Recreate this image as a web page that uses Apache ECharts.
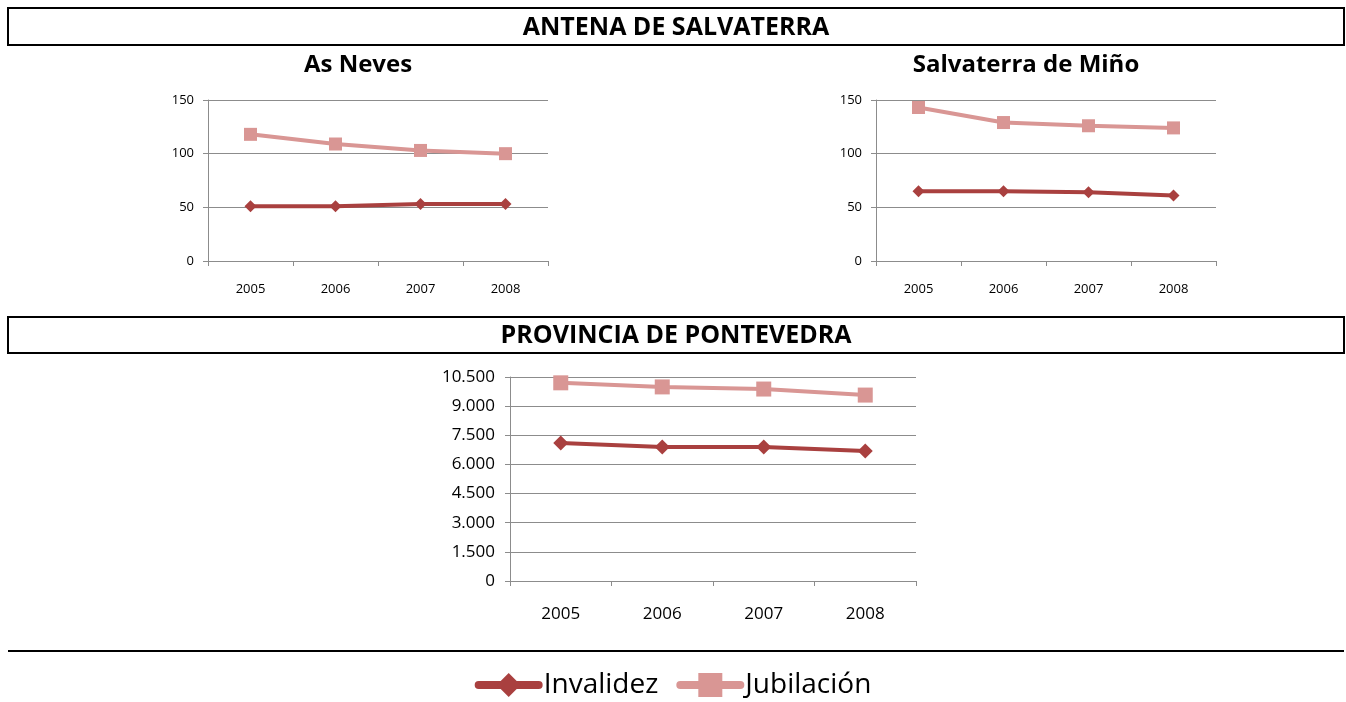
<!DOCTYPE html>
<html lang="es">
<head>
    <meta charset="UTF-8">
    <title>Antena de Salvaterra - Provincia de Pontevedra</title>
    <script src="https://cdn.jsdelivr.net/npm/echarts@6.0.0/dist/echarts.min.js"></script>
    <style>
        body {
            margin: 0;
            background: #fff;
        }
        #chart {
            width: 1346px;
            height: 702px;
        }
    </style>
</head>
<body>

<div id="chart"></div>

<script>
// datos
const years = ['2005', '2006', '2007', '2008'];
const asNevesInvalidez = [51, 51, 53, 53];
const asNevesJubilacion = [118, 109, 103, 100];
const salvaterraInvalidez = [65, 65, 64, 61];
const salvaterraJubilacion = [143, 129, 126, 124];
const pontevedraInvalidez = [7100, 6900, 6900, 6690];
const pontevedraJubilacion = [10200, 9990, 9880, 9570];

const FONT = '"Open Sans", Lato, sans-serif';
const COLOR_INV = '#A9403F';
const COLOR_JUB = '#D99694';
const GRID_COLOR = '#8C8C8C';

function fmtMiles(v) {
    return String(v).replace(/\B(?=(\d{3})+(?!\d))/g, '.');
}

function xAxisFor(gridIndex, fontSize, margin) {
    return {
        type: 'category',
        gridIndex: gridIndex,
        data: years,
        boundaryGap: true,
        axisLine: { lineStyle: { color: GRID_COLOR, width: 1 } },
        axisTick: { show: true, length: 5, lineStyle: { color: GRID_COLOR } },
        axisLabel: { color: '#000', fontSize: fontSize, fontFamily: FONT, margin: margin }
    };
}

function yAxisFor(gridIndex, max, interval, fontSize, margin, formatter) {
    return {
        type: 'value',
        gridIndex: gridIndex,
        min: 0,
        max: max,
        interval: interval,
        axisLine: { show: true, lineStyle: { color: GRID_COLOR, width: 1 } },
        axisTick: { show: true, length: 5, lineStyle: { color: GRID_COLOR } },
        splitLine: { lineStyle: { color: GRID_COLOR, width: 1 } },
        axisLabel: { color: '#000', fontSize: fontSize, fontFamily: FONT, margin: margin, formatter: formatter }
    };
}

function invSeries(idx, data, size) {
    return {
        name: 'Invalidez',
        type: 'line',
        xAxisIndex: idx,
        yAxisIndex: idx,
        data: data,
        symbol: 'diamond',
        symbolSize: size,
        color: COLOR_INV,
        lineStyle: { color: COLOR_INV, width: 4 },
        itemStyle: { color: COLOR_INV },
        z: 3
    };
}

function jubSeries(idx, data, size) {
    return {
        name: 'Jubilación',
        type: 'line',
        xAxisIndex: idx,
        yAxisIndex: idx,
        data: data,
        symbol: 'rect',
        symbolSize: size,
        color: COLOR_JUB,
        lineStyle: { color: COLOR_JUB, width: 4 },
        itemStyle: { color: COLOR_JUB },
        z: 2
    };
}

function boxWithText(top, height, text) {
    return [
        {
            type: 'rect',
            shape: { x: 8, y: top, width: 1336, height: height },
            style: { fill: 'none', stroke: '#000', lineWidth: 2 }
        },
        {
            type: 'text',
            x: 676,
            y: top + height / 2 + 1,
            style: {
                text: text,
                fill: '#000',
                font: 'bold 25px ' + FONT,
                align: 'center',
                verticalAlign: 'middle'
            }
        }
    ];
}

function subTitle(x, y, text) {
    return {
        type: 'text',
        x: x,
        y: y,
        style: {
            text: text,
            fill: '#000',
            font: 'bold 24px ' + FONT,
            align: 'center',
            verticalAlign: 'middle'
        }
    };
}

const myChart = echarts.init(document.getElementById('chart'));

const option = {
    animation: false,
    textStyle: { fontFamily: FONT },
    grid: [
        { left: 208, top: 100, width: 340, height: 161 },
        { left: 876, top: 100, width: 340, height: 161 },
        { left: 510, top: 377, width: 406, height: 204 }
    ],
    xAxis: [
        xAxisFor(0, 13, 22),
        xAxisFor(1, 13, 22),
        xAxisFor(2, 17, 25)
    ],
    yAxis: [
        yAxisFor(0, 150, 50, 13, 14),
        yAxisFor(1, 150, 50, 13, 14),
        yAxisFor(2, 10500, 1500, 17, 15, fmtMiles)
    ],
    legend: {
        data: ['Invalidez', 'Jubilación'],
        left: 'center',
        top: 666,
        itemWidth: 60,
        itemHeight: 30,
        itemGap: 18,
        textStyle: { fontSize: 28, color: '#000', fontFamily: FONT },
        lineStyle: { width: 8, cap: 'round' }
    },
    graphic: [
        ...boxWithText(8, 37, 'ANTENA DE SALVATERRA'),
        subTitle(358, 65, 'As Neves'),
        subTitle(1026, 65, 'Salvaterra de Miño'),
        ...boxWithText(317, 36, 'PROVINCIA DE PONTEVEDRA'),
        {
            type: 'line',
            shape: { x1: 8, y1: 651, x2: 1344, y2: 651 },
            style: { stroke: '#000', lineWidth: 2 }
        }
    ],
    series: [
        invSeries(0, asNevesInvalidez, 12),
        jubSeries(0, asNevesJubilacion, 13),
        invSeries(1, salvaterraInvalidez, 12),
        jubSeries(1, salvaterraJubilacion, 13),
        invSeries(2, pontevedraInvalidez, 15),
        jubSeries(2, pontevedraJubilacion, 15)
    ]
};

myChart.setOption(option);
</script>

</body>
</html>
